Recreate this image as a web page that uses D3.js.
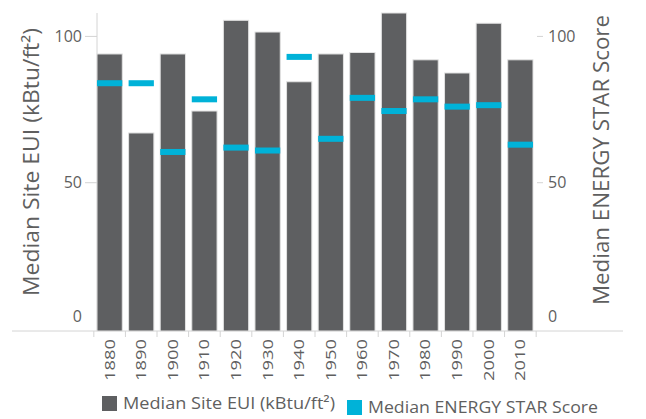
<!DOCTYPE html>
<html>
<head>
<meta charset="utf-8">
<script src="https://cdn.jsdelivr.net/npm/d3@7"></script>
<style>
  body { margin: 0; background: #fff; }
  text { font-family: "Open Sans", sans-serif; fill: #5f5f5f; }
</style>
</head>
<body>
<div id="chart"></div>
<script>
const years = ['1880', '1890', '1900', '1910', '1920', '1930', '1940', '1950', '1960', '1970', '1980', '1990', '2000', '2010'];
const siteEUI = [94, 67, 94, 74.5, 105.5, 101.5, 84.5, 94, 94.5, 108, 92, 87.5, 104.5, 92];
const starScore = [84, 84, 60.5, 78.5, 62, 61, 93, 65, 79, 74.5, 78.5, 76, 76.5, 63];
const yTicks = [0, 50, 100];

const W = 646, H = 419;
const plot = {left: 97, right: 533, top: 13, bottom: 329};

const svg = d3.select('#chart').append('svg')
  .attr('width', W)
  .attr('height', H);

const x = d3.scaleBand()
  .domain(years)
  .range([plot.left, plot.right])
  .paddingInner(0.2)
  .paddingOuter(0);

const y = d3.scaleLinear()
  .domain([0, 108])
  .range([plot.bottom, plot.top]);

const gridColor = '#d4d4d4';

// baseline and left axis line
svg.append('line')
  .attr('x1', 12).attr('x2', 623)
  .attr('y1', plot.bottom + 2).attr('y2', plot.bottom + 2)
  .attr('stroke', gridColor);

svg.append('line')
  .attr('x1', plot.left).attr('x2', plot.left)
  .attr('y1', plot.top).attr('y2', plot.bottom + 2)
  .attr('stroke', gridColor);

// x ticks at band edges
const gap = x.step() - x.bandwidth();
const edges = years.map(d => x(d) - gap / 2).concat([plot.right + gap / 2]);
svg.selectAll('.xtick')
  .data(edges)
  .enter().append('line')
  .attr('class', 'xtick')
  .attr('x1', d => d).attr('x2', d => d)
  .attr('y1', plot.bottom + 2).attr('y2', plot.bottom + 8)
  .attr('stroke', gridColor);

// bars
svg.selectAll('.bar')
  .data(years)
  .enter().append('rect')
  .attr('class', 'bar')
  .attr('x', d => x(d))
  .attr('width', x.bandwidth())
  .attr('y', (d, i) => y(siteEUI[i]))
  .attr('height', (d, i) => plot.bottom + 2 - y(siteEUI[i]))
  .attr('fill', '#5e5f61')
  .attr('stroke', '#e2e2e2')
  .attr('stroke-width', 1);

// score markers
svg.selectAll('.score')
  .data(years)
  .enter().append('rect')
  .attr('class', 'score')
  .attr('x', d => x(d))
  .attr('width', x.bandwidth())
  .attr('y', (d, i) => y(starScore[i]) - 3)
  .attr('height', 6)
  .attr('fill', '#00b2d8');

// left axis
const leftAxis = svg.append('g');
leftAxis.selectAll('line')
  .data(yTicks.filter(d => d > 0))
  .enter().append('line')
  .attr('x1', plot.left - 12).attr('x2', plot.left)
  .attr('y1', d => y(d)).attr('y2', d => y(d))
  .attr('stroke', gridColor);
leftAxis.selectAll('text')
  .data(yTicks)
  .enter().append('text')
  .attr('x', plot.left - 15)
  .attr('y', d => d === 0 ? y(d) - 13 : y(d))
  .attr('dy', '0.35em')
  .attr('text-anchor', 'end')
  .style('font-size', '16px')
  .text(d => d);

// right axis
const rightAxis = svg.append('g');
rightAxis.selectAll('line')
  .data(yTicks.filter(d => d > 0))
  .enter().append('line')
  .attr('x1', plot.right + 4).attr('x2', plot.right + 10)
  .attr('y1', d => y(d)).attr('y2', d => y(d))
  .attr('stroke', gridColor);
rightAxis.selectAll('text')
  .data(yTicks)
  .enter().append('text')
  .attr('x', plot.right + 15)
  .attr('y', d => d === 0 ? y(d) - 13 : y(d))
  .attr('dy', '0.35em')
  .style('font-size', '16px')
  .text(d => d);

// x labels
svg.selectAll('.xlabel')
  .data(years)
  .enter().append('text')
  .attr('class', 'xlabel')
  .attr('transform', d => 'translate(' + (x(d) + x.bandwidth() / 2) + ',' + (plot.bottom + 10) + ') rotate(-90)')
  .attr('dy', '0.35em')
  .attr('text-anchor', 'end')
  .attr('textLength', 42)
  .attr('lengthAdjust', 'spacingAndGlyphs')
  .style('font-size', '14px')
  .text(d => d);

// axis titles
svg.append('text')
  .attr('transform', 'translate(32,162) rotate(-90)')
  .attr('text-anchor', 'middle')
  .attr('dy', '0.35em')
  .attr('textLength', 268)
  .attr('lengthAdjust', 'spacingAndGlyphs')
  .style('font-size', '21px')
  .text('Median Site EUI (kBtu/ft²)');

svg.append('text')
  .attr('transform', 'translate(602,160) rotate(-90)')
  .attr('text-anchor', 'middle')
  .attr('dy', '0.35em')
  .attr('textLength', 290)
  .attr('lengthAdjust', 'spacingAndGlyphs')
  .style('font-size', '21px')
  .text('Median ENERGY STAR Score');

// legend
const legend = [
  {label: 'Median Site EUI (kBtu/ft²)', color: '#5e5f61', x: 102, y: 396, w: 212},
  {label: 'Median ENERGY STAR Score', color: '#00b2d8', x: 347, y: 400, w: 230}
];
const lg = svg.selectAll('.legend')
  .data(legend)
  .enter().append('g')
  .attr('class', 'legend')
  .attr('transform', d => 'translate(' + d.x + ',' + d.y + ')');
lg.append('rect')
  .attr('width', 15).attr('height', 15)
  .attr('fill', d => d.color);
lg.append('text')
  .attr('x', 21).attr('y', 7.5)
  .attr('dy', '0.35em')
  .attr('textLength', d => d.w)
  .attr('lengthAdjust', 'spacingAndGlyphs')
  .style('font-size', '17px')
  .text(d => d.label);
</script>
</body>
</html>
